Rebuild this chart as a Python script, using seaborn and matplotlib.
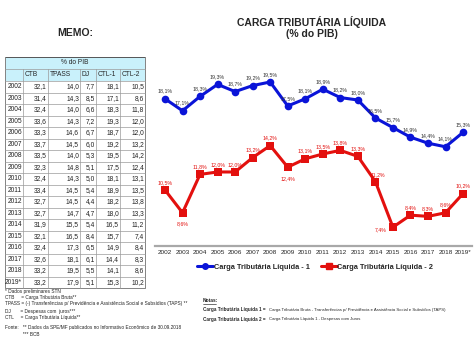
import pandas as pd
import matplotlib.pyplot as plt
from matplotlib.patches import Rectangle
from matplotlib.lines import Line2D
import seaborn as sns

sns.set_theme(style="white")
plt.rcParams['font.family'] = ['Liberation Sans', 'DejaVu Sans']

years = ["2002", "2003", "2004", "2005", "2006", "2007", "2008", "2009", "2010",
         "2011", "2012", "2013", "2014", "2015", "2016", "2017", "2018", "2019*"]
ctb = [32.1, 31.4, 32.4, 33.6, 33.3, 33.7, 33.5, 32.3, 32.4,
       33.4, 32.7, 32.7, 31.9, 32.1, 32.4, 32.6, 33.2, 33.2]
tpass = [14.0, 14.3, 14.0, 14.3, 14.6, 14.5, 14.0, 14.8, 14.3,
         14.5, 14.5, 14.7, 15.5, 16.5, 17.3, 18.1, 19.5, 17.9]
dj = [7.7, 8.5, 6.6, 7.2, 6.7, 6.0, 5.3, 5.1, 5.0,
      5.4, 4.4, 4.7, 5.4, 8.4, 6.5, 6.1, 5.5, 5.1]
ctl1 = [18.1, 17.1, 18.3, 19.3, 18.7, 19.2, 19.5, 17.5, 18.1,
        18.9, 18.2, 18.0, 16.5, 15.7, 14.9, 14.4, 14.1, 15.3]
ctl2 = [10.5, 8.6, 11.8, 12.0, 12.0, 13.2, 14.2, 12.4, 13.1,
        13.5, 13.8, 13.3, 11.2, 7.4, 8.4, 8.3, 8.6, 10.2]

S1 = "Carga Tributária Líquida - 1"
S2 = "Carga Tributária Líquida - 2"
BLUE = "#0a14d8"
RED = "#e3100e"
W, H = 474, 355

df = pd.DataFrame({
    "pos": list(range(len(years))) * 2,
    "ano": years * 2,
    "valor": ctl1 + ctl2,
    "serie": [S1] * len(years) + [S2] * len(years),
})

fig = plt.figure(figsize=(W / 100, H / 100), dpi=100)

# full-figure axes in pixel coords for table and notes
bg = fig.add_axes([0, 0, 1, 1])
bg.set_xlim(0, W)
bg.set_ylim(H, 0)
bg.axis("off")

bg.text(75, 33, "MEMO:", ha="center", va="center", fontsize=7.5, fontweight="bold")
bg.text(312, 22, "CARGA TRIBUTÁRIA LÍQUIDA", ha="center", va="center",
        fontsize=7.5, fontweight="bold")
bg.text(312, 34, "(% do PIB)", ha="center", va="center", fontsize=7.5, fontweight="bold")

# memo table
cols = [5, 23, 48, 80, 96, 120, 145]
top = 57
hrow = 12
row_h = 11.5
cyan = "#c9f1fb"
grid = "#9a9a9a"
bg.add_patch(Rectangle((cols[0], top), cols[-1] - cols[0], hrow * 2, fc=cyan, ec="none"))
bg.text((cols[0] + cols[-1]) / 2, top + hrow / 2, "% do PIB", ha="center", va="center", fontsize=4.8)
heads = ["", "CTB", "TPASS", "DJ", "CTL-1", "CTL-2"]
for i, h in enumerate(heads):
    if h:
        bg.text(cols[i] + 1.5, top + hrow * 1.5, h, ha="left", va="center", fontsize=4.8)
data_top = top + hrow * 2
table_cols = [ctb, tpass, dj, ctl1, ctl2]
for r, yr in enumerate(years):
    yc = data_top + row_h * (r + 0.5)
    bg.text(cols[1] - 1, yc, yr, ha="right", va="center", fontsize=4.8, color="#222222")
    for c, vals in enumerate(table_cols):
        bg.text(cols[c + 2] - 1, yc, f"{vals[r]:.1f}".replace(".", ","),
                ha="right", va="center", fontsize=4.8, color="#222222")
bottom = data_top + row_h * len(years)
for r in range(len(years) + 1):
    yy = data_top + row_h * r
    bg.plot([cols[0], cols[-1]], [yy, yy], color=grid, lw=0.5)
bg.plot([cols[0], cols[-1]], [top + hrow, top + hrow], color=grid, lw=0.5)
for i, xx in enumerate(cols):
    y0 = top if i in (0, len(cols) - 1) else top + hrow
    bg.plot([xx, xx], [y0, bottom], color=grid, lw=0.5)
bg.add_patch(Rectangle((cols[0], top), cols[-1] - cols[0], bottom - top, fc="none", ec="#555555", lw=0.7))

# footnotes
foot = [
    (291, "* Dados preliminares STN"),
    (297, "CTB     = Carga Tributária Bruta**"),
    (304, "TPASS = (-) Transferências p/ Previdência e Assistência Social e Subsídios (TAPS) **"),
    (311, "DJ       = Despesas com  juros***"),
    (317, "CTL     = Carga Tributária Líquida**"),
    (328, "Fonte:   ** Dados da SPE/MF publicados no Informativo Econômico de 30.09.2018"),
    (334, "             *** BCB"),
]
for yy, t in foot:
    bg.text(5, yy, t, ha="left", va="center", fontsize=3.4, color="#222222")

# notes
bg.text(203, 301, "Notas:", ha="left", va="center", fontsize=3.5, fontweight="bold")
bg.plot([203, 216], [304, 304], color="black", lw=0.4)
bg.text(203, 310, "Carga Tributária Líquida 1 =", ha="left", va="center", fontsize=3.3, fontweight="bold")
bg.text(269, 310, "Carga Tributária Bruta - Transferências p/ Previdência e Assistência Social e Subsídios (TAPS)",
        ha="left", va="center", fontsize=3.1)
bg.text(203, 319, "Carga Tributária Líquida 2 =", ha="left", va="center", fontsize=3.3, fontweight="bold")
bg.text(269, 319, "Carga Tributária Líquida 1 - Despesas com Juros", ha="left", va="center", fontsize=3.1)

# chart
ax = fig.add_axes([155 / W, (H - 246) / H, (472 - 155) / W, (246 - 64) / H])
sns.lineplot(data=df, x="pos", y="valor", hue="serie", style="serie",
             markers={S1: "o", S2: "s"}, dashes=False,
             palette={S1: BLUE, S2: RED}, linewidth=2.2, markersize=5.5,
             markeredgewidth=0, ax=ax, legend=False)
ax.set_xlim(-0.57, 17.51)
ax.set_ylim(5.83, 21.0)
ax.set_xticks(range(len(years)))
ax.set_xticklabels(years, fontsize=4.6)
ax.set_yticks([])
ax.set_xlabel("")
ax.set_ylabel("")
ax.tick_params(axis="x", length=0, pad=3)
for s in ["top", "right", "left"]:
    ax.spines[s].set_visible(False)
ax.spines["bottom"].set_color("#a8a8a8")
ax.spines["bottom"].set_linewidth(1.6)
ax.patch.set_alpha(0)

red_offsets = {"2003": (0, -8), "2009": (0, -8), "2015": (-9, -2), "2014": (2, 5)}
for i, yr in enumerate(years):
    ax.annotate(f"{ctl1[i]:.1f}%".replace(".", ","), (i, ctl1[i]), xytext=(0, 5.5),
                textcoords="offset points", ha="center", va="center",
                fontsize=3.8, color="#333333")
    off = red_offsets.get(yr, (0, 5.5))
    ax.annotate(f"{ctl2[i]:.1f}%".replace(".", ","), (i, ctl2[i]), xytext=off,
                textcoords="offset points", ha="center", va="center",
                fontsize=3.8, color=RED)

handles = [Line2D([], [], color=BLUE, marker="o", lw=2.2, ms=4),
           Line2D([], [], color=RED, marker="s", lw=2.2, ms=4)]
leg = fig.legend(handles, [S1, S2], loc="center", bbox_to_anchor=(315 / W, (H - 267) / H),
                 ncol=2, frameon=False, fontsize=5.3, handlelength=2.2,
                 handletextpad=0.1, columnspacing=1.5)
for t in leg.get_texts():
    t.set_fontweight("bold")

fig.savefig("out.png", dpi=100)
